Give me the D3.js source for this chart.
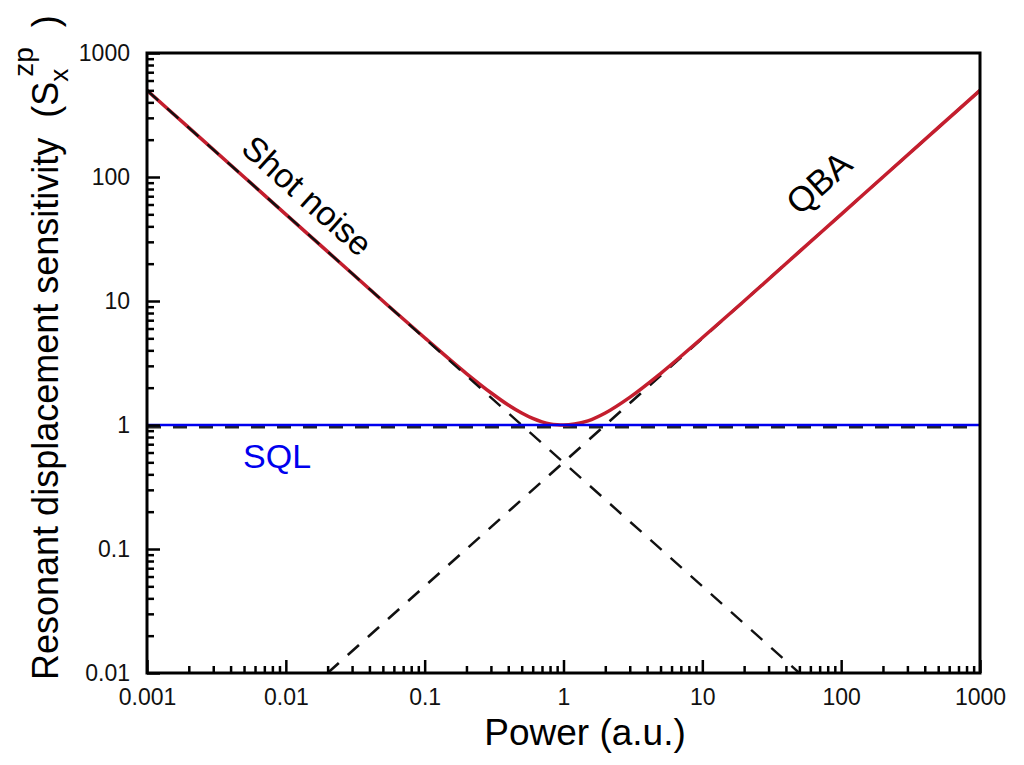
<!DOCTYPE html>
<html>
<head>
<meta charset="utf-8">
<script src="https://cdn.jsdelivr.net/npm/d3@7/dist/d3.min.js"></script>
<style>
  html, body { margin: 0; padding: 0; background: #fff; }
  svg { display: block; font-family: "Liberation Sans", Arial, sans-serif; }
</style>
</head>
<body>
<svg id="chart" width="1024" height="765"></svg>
<script>
// Combined sensitivity curve (power, sensitivity) in units of the zero-point value
const powerSamples = [0.001, 0.002, 0.005, 0.01, 0.02, 0.05, 0.1, 0.2, 0.3, 0.4, 0.5, 0.6, 0.7, 0.8, 0.9, 1, 1.2, 1.5, 2, 3, 5, 10, 20, 50, 100, 200, 500, 1000];
const totalSensitivity = [500, 250, 100, 50, 25, 10, 5.05, 2.6, 1.82, 1.45, 1.25, 1.13, 1.06, 1.02, 1.005, 1, 1.017, 1.08, 1.25, 1.67, 2.6, 5.05, 10, 25, 50, 100, 250, 500];

// Asymptotes: shot noise falls with power, back-action rises with power
const shotNoisePower = [0.001, 50];
const shotNoiseValue = [500, 0.01];
const qbaPower = [0.02, 1000];
const qbaValue = [0.01, 500];

// Standard quantum limit
const sqlValue = 1;

const xTickLabels = ["0.001", "0.01", "0.1", "1", "10", "100", "1000"];
const yTickLabels = ["0.01", "0.1", "1", "10", "100", "1000"];

const svg = d3.select("#chart");
const margin = { left: 147, right: 44, top: 53, bottom: 92 };
const W = 1024, H = 765;
const plotW = W - margin.left - margin.right;
const plotH = H - margin.top - margin.bottom;

const x = d3.scaleLog().domain([0.001, 1000]).range([0, plotW]);
const y = d3.scaleLog().domain([0.01, 1000]).range([plotH, 0]);

const g = svg.append("g").attr("transform", `translate(${margin.left},${margin.top})`);

const majorX = xTickLabels.map(Number);
const majorY = yTickLabels.map(Number);
const minorX = x.ticks().filter(v => !majorX.some(m => Math.abs(m - v) / m < 1e-9));
const minorY = y.ticks().filter(v => !majorY.some(m => Math.abs(m - v) / m < 1e-9));

// Curves
const lineXY = d3.line().x(d => x(d[0])).y(d => y(d[1]));

const plot = g.append("g");

// back-action asymptote (under the total curve)
plot.append("path")
  .datum(d3.zip(qbaPower, qbaValue))
  .attr("d", lineXY)
  .attr("fill", "none").attr("stroke", "#111").attr("stroke-width", 2.6)
  .attr("stroke-dasharray", "15,12");

// SQL dashed guide
plot.append("path")
  .datum([[0.001, sqlValue], [1000, sqlValue]])
  .attr("d", lineXY)
  .attr("transform", "translate(0,2)")
  .attr("fill", "none").attr("stroke", "#222").attr("stroke-width", 3)
  .attr("stroke-dasharray", "14,12");

// total sensitivity
plot.append("path")
  .datum(d3.zip(powerSamples, totalSensitivity))
  .attr("d", d3.line().x(d => x(d[0])).y(d => y(d[1])).curve(d3.curveMonotoneX))
  .attr("fill", "none").attr("stroke", "#c41e2e").attr("stroke-width", 3.5);

// shot-noise asymptote
plot.append("path")
  .datum(d3.zip(shotNoisePower, shotNoiseValue))
  .attr("d", lineXY)
  .attr("fill", "none").attr("stroke", "#111").attr("stroke-width", 2.4)
  .attr("stroke-dasharray", "15,12");

// SQL line
plot.append("path")
  .datum([[0.001, sqlValue], [1000, sqlValue]])
  .attr("d", lineXY)
  .attr("fill", "none").attr("stroke", "#0000ee").attr("stroke-width", 2.5);

// Axes (ticks inward)
function styleAxis(sel) {
  sel.select(".domain").remove();
  sel.attr("font-size", 23).attr("font-family", "'Liberation Sans', Arial, sans-serif");
  sel.selectAll(".tick line").attr("stroke", "#000").attr("stroke-width", 2.5);
  sel.selectAll("text").attr("fill", "#111");
}

g.append("g").attr("transform", `translate(0,${plotH})`)
  .call(d3.axisBottom(x).tickValues(minorX).tickSize(-7).tickFormat(""))
  .call(styleAxis);
g.append("g").attr("transform", `translate(0,${plotH})`)
  .call(d3.axisBottom(x).tickValues(majorX).tickSize(-13).tickPadding(16)
    .tickFormat((d, i) => xTickLabels[i]))
  .call(styleAxis);

g.append("g")
  .call(d3.axisLeft(y).tickValues(minorY).tickSize(-7).tickFormat(""))
  .call(styleAxis);
g.append("g")
  .call(d3.axisLeft(y).tickValues(majorY).tickSize(-13).tickPadding(17)
    .tickFormat((d, i) => yTickLabels[i]))
  .call(styleAxis);

// Frame
g.append("rect")
  .attr("x", 0).attr("y", 0).attr("width", plotW).attr("height", plotH)
  .attr("fill", "none").attr("stroke", "#000").attr("stroke-width", 3);

// Annotations
const slopeAngle = Math.atan2(y(0.1) - y(1), x(10) - x(1)) * 180 / Math.PI;

g.append("text")
  .attr("transform", `translate(${x(0.0125)},${y(60)}) rotate(${slopeAngle})`)
  .attr("text-anchor", "middle")
  .attr("font-size", 34).attr("fill", "#000")
  .text("Shot noise");

g.append("text")
  .attr("transform", `translate(${x(79)},${y(76)}) rotate(${-slopeAngle})`)
  .attr("text-anchor", "middle")
  .attr("font-size", 35).attr("fill", "#000")
  .text("QBA");

g.append("text")
  .attr("x", x(0.00865)).attr("y", y(sqlValue) + 43)
  .attr("text-anchor", "middle")
  .attr("font-size", 34).attr("fill", "#0000ee")
  .text("SQL");

// Axis titles
svg.append("text")
  .attr("x", 585).attr("y", 745)
  .attr("text-anchor", "middle")
  .attr("font-size", 37).attr("fill", "#000")
  .text("Power (a.u.)");

const yTitle = svg.append("text")
  .attr("transform", "translate(58,680) rotate(-90)")
  .style("white-space", "pre")
  .attr("font-size", 36).attr("fill", "#000");
yTitle.append("tspan").text("Resonant displacement sensitivity  (S");
yTitle.append("tspan").attr("font-size", 26).attr("dy", 10).text("x");
yTitle.append("tspan").attr("font-size", 28).attr("dx", -8).attr("dy", -35).text("zp");
yTitle.append("tspan").attr("dy", 25).text("  )");
</script>
</body>
</html>
